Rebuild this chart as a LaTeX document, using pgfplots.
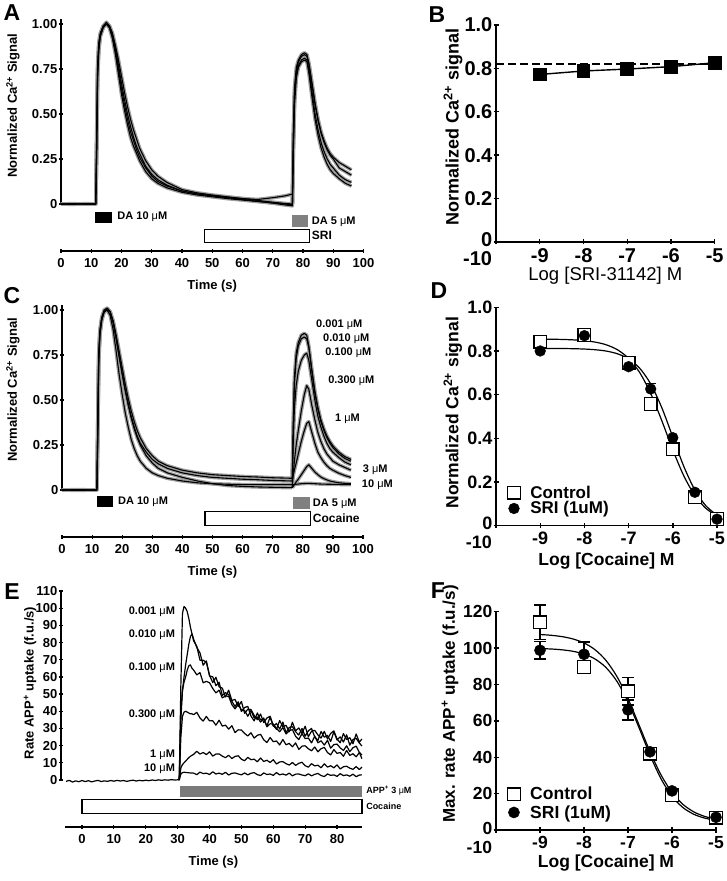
\documentclass[border=0pt]{standalone}
\usepackage{pgfplots}
\usepackage{pgfplotstable}
\pgfplotsset{compat=1.18}
\usepackage{fontspec}
\setmainfont{Liberation Sans}
\newcommand{\fs}[1]{\fontsize{#1}{#1}\selectfont}
\newcommand{\uM}{{\mdseries μ}M}

% panel A traces
\pgfplotstableread{
t a1 a2 a3 a4
0 0 0 0 0
4 0.002 -0.002 0.001 0
8 -0.001 0.002 0 0.001
11.5 0 0 0 0
11.8 0.35 0.3 0.4 0.3
12.1 0.75 0.7 0.78 0.72
12.5 0.88 0.85 0.9 0.87
13 0.94 0.93 0.95 0.94
14 0.99 0.98 0.99 0.99
15 1.0 1.0 1.01 1.0
16 0.98 0.99 0.99 0.98
17 0.92 0.95 0.94 0.93
18 0.83 0.88 0.86 0.85
19 0.72 0.80 0.77 0.75
20 0.61 0.71 0.67 0.64
21 0.52 0.62 0.58 0.55
22 0.44 0.54 0.50 0.47
23 0.37 0.47 0.43 0.40
24 0.32 0.41 0.37 0.35
25 0.28 0.36 0.32 0.30
26 0.24 0.31 0.28 0.26
28 0.18 0.24 0.21 0.20
30 0.14 0.19 0.165 0.155
32 0.115 0.155 0.135 0.125
35 0.09 0.12 0.105 0.10
40 0.065 0.08 0.072 0.072
45 0.05 0.062 0.056 0.056
50 0.04 0.05 0.045 0.046
55 0.03 0.04 0.035 0.037
60 0.022 0.03 0.025 0.03
65 0.014 0.02 0.015 0.025
70 0.006 0.01 0.005 0.035
74 0 0.003 -0.005 0.045
76.5 -0.005 0 -0.01 0.055
76.8 0.3 0.35 0.28 0.4
77.2 0.6 0.62 0.55 0.65
77.8 0.72 0.74 0.7 0.76
78.5 0.77 0.79 0.76 0.8
79.5 0.8 0.82 0.79 0.83
80.5 0.81 0.83 0.8 0.84
81.3 0.8 0.82 0.79 0.83
82 0.74 0.77 0.72 0.78
83 0.62 0.66 0.59 0.67
84 0.5 0.55 0.47 0.56
85 0.41 0.46 0.38 0.47
86 0.34 0.39 0.31 0.40
87 0.29 0.34 0.26 0.35
88 0.25 0.30 0.22 0.31
89 0.22 0.27 0.19 0.28
90 0.2 0.25 0.17 0.26
92 0.16 0.2 0.14 0.23
94 0.135 0.18 0.115 0.21
96 0.12 0.16 0.10 0.19
}\dataA

% panel C, first response
\pgfplotstableread{
t f1 f2 f3 f4
0 0 0 0 0
5 0.002 -0.002 0.001 0
11.6 0 0 0 0
11.9 0.35 0.3 0.4 0.38
12.2 0.72 0.7 0.76 0.74
12.6 0.87 0.86 0.89 0.88
13.2 0.95 0.94 0.96 0.95
14 0.99 0.99 1.0 0.99
15 1.01 1.0 1.01 1.0
16 0.99 0.99 0.99 0.97
17 0.94 0.93 0.93 0.89
18 0.86 0.84 0.84 0.77
19 0.77 0.74 0.74 0.64
20 0.68 0.65 0.64 0.53
21 0.59 0.56 0.55 0.43
22 0.51 0.48 0.47 0.35
23 0.44 0.41 0.40 0.28
24 0.38 0.35 0.34 0.23
25 0.33 0.30 0.29 0.19
26 0.29 0.26 0.25 0.16
28 0.23 0.21 0.19 0.12
30 0.19 0.17 0.15 0.095
32 0.16 0.145 0.12 0.08
35 0.135 0.12 0.095 0.065
40 0.11 0.095 0.07 0.05
45 0.095 0.08 0.05 0.04
50 0.085 0.07 0.035 0.035
55 0.08 0.065 0.025 0.032
60 0.075 0.06 0.02 0.03
65 0.072 0.057 0.017 0.03
70 0.068 0.053 0.015 0.03
76.5 0.065 0.05 0.013 0.03
}\dataCa

% panel C, second response (one column per cocaine concentration)
\pgfplotstableread{
t c1 c2 c3 c4 c5 c6 c7
76.5 0.013 0.065 0.05 0.013 0.065 0.013 0.03
76.8 0.35 0.33 0.25 0.08 0.08 0.02 0.03
77.2 0.62 0.58 0.45 0.16 0.11 0.03 0.03
77.8 0.76 0.73 0.58 0.25 0.15 0.045 0.032
78.5 0.82 0.8 0.66 0.33 0.2 0.06 0.033
79.5 0.86 0.84 0.72 0.44 0.27 0.085 0.035
80.5 0.87 0.85 0.75 0.53 0.33 0.11 0.036
81.3 0.86 0.84 0.76 0.58 0.37 0.13 0.037
82 0.8 0.79 0.72 0.56 0.38 0.14 0.037
83 0.67 0.66 0.61 0.47 0.32 0.12 0.036
84 0.55 0.54 0.5 0.39 0.26 0.1 0.035
85 0.46 0.45 0.41 0.32 0.21 0.085 0.034
86 0.39 0.38 0.35 0.27 0.18 0.072 0.033
87 0.34 0.33 0.3 0.23 0.155 0.063 0.033
88 0.3 0.29 0.26 0.2 0.135 0.056 0.032
89 0.27 0.26 0.23 0.18 0.12 0.05 0.032
90 0.245 0.235 0.21 0.16 0.11 0.046 0.031
92 0.21 0.2 0.18 0.14 0.093 0.04 0.031
94 0.185 0.175 0.155 0.125 0.08 0.037 0.03
96 0.17 0.16 0.14 0.11 0.07 0.035 0.03
}\dataCb

% panel E, baseline before APP+
\pgfplotstableread{
t v
-5 -0.8
-4 -0.2
-3 -1.2
-2 -0.5
-1 -1.0
0 -0.3
1 -0.9
2 -0.4
3 -1.1
4 -0.6
5 -0.2
6 -0.9
7 -0.5
8 -0.8
9 -0.3
10 -0.7
11 -0.2
12 -0.6
13 -0.3
14 -0.8
15 -0.4
16 -0.1
17 -0.6
18 -0.2
19 -0.5
20 -0.1
21 -0.4
22 0
23 -0.3
24 0.1
25 -0.2
26 0.1
27 -0.1
28 0.2
29 0
30 0.1
30.5 0
}\dataEbase

% panel E, uptake rate after APP+ (0.001, 0.010, 0.100, 0.300, 1, 10 uM cocaine)
\pgfplotstableread{
t e1 e2 e3 e4 e5 e6
30.5 0 0 0 0 0 0
31 55 40 35 25 7 3.5
31.5 97 52 52 37 9 4.3
32 101 60 57 39.5 10 4.5
32.5 100 67 60 40 11 4.4
33 98 73 64 39.5 12 4.3
33.5 94 79 66.5 39 13 4.2
34 89 83.5 67 38.5 13.8 4.1
34.5 85 85 65 38.5 14.4 4.1
35 81 82 64 38 14.9 4.0
36 77.8 77.2 61.2 39.4 16.7 3.1
37 69.7 74.0 62.5 36.1 15.1 4.6
38 69.7 66.8 56.6 34.3 16.0 3.7
39 68.5 69.3 57.4 37.0 14.8 4.0
40 61.0 60.5 56.6 34.4 16.4 3.2
41 56.7 60.1 53.3 34.5 13.9 4.8
42 59.8 54.9 50.7 31.9 15.1 3.5
43 54.2 56.9 52.3 34.8 15.2 4.0
44 53.5 49.2 47.8 31.4 13.9 3.3
45 48.3 50.8 48.9 31.9 13.0 4.5
46 52.3 49.7 48.7 29.6 14.4 2.9
47 46.3 45.8 43.9 31.6 12.5 3.9
48 46.9 42.8 41.4 27.6 13.7 4.1
49 42.7 45.5 44.2 29.2 14.1 3.5
50 45.7 39.9 40.7 29.1 12.1 3.0
51 38.8 42.2 40.5 27.1 11.2 4.1
52 41.2 42.8 37.1 25.6 13.2 3.0
53 41.0 37.2 40.4 27.5 11.8 3.9
54 37.6 34.4 36.1 24.4 12.1 4.3
55 35.1 39.0 36.7 26.0 10.6 3.1
56 38.4 35.0 33.7 26.6 12.8 2.6
57 33.4 35.4 36.1 23.4 10.8 4.1
58 36.1 31.4 31.0 21.8 11.5 3.2
59 37.1 36.6 32.7 24.7 10.2 3.5
60 31.8 31.3 32.6 22.3 11.8 2.7
61 29.5 32.9 30.0 22.7 9.3 4.3
62 34.6 29.7 28.1 20.4 10.5 3.0
63 31.0 33.7 30.5 23.6 10.7 3.5
64 31.8 27.5 26.8 20.5 9.5 2.8
65 28.1 30.6 28.7 21.3 8.7 4.0
66 33.6 31.0 29.3 19.3 10.2 2.4
67 28.6 28.1 25.4 21.6 8.5 3.4
68 30.3 26.2 23.5 17.8 9.7 3.5
69 27.2 30.0 27.0 19.7 10.3 2.9
70 31.3 25.5 24.1 19.9 8.3 2.5
71 25.2 28.6 24.4 18.2 7.5 3.6
72 28.4 30.0 21.6 17.0 9.5 2.4
73 28.9 25.1 25.5 19.2 8.2 3.3
74 26.2 23.0 21.7 16.4 8.6 3.8
75 24.4 28.3 22.8 18.2 7.1 2.6
76 28.3 24.9 20.3 19.0 9.4 2.0
77 23.9 25.9 23.1 16.0 7.5 3.5
78 27.1 22.4 18.5 14.6 8.3 2.7
79 28.6 28.1 20.6 17.7 7.1 3.0
80 23.8 23.3 20.9 15.5 8.8 2.1
81 21.7 25.1 18.7 16.0 6.4 3.7
82 27.0 22.1 17.2 13.8 7.7 2.5
83 23.6 26.3 19.9 17.2 8.0 3.0
84 24.6 20.3 16.5 14.3 6.9 2.2
85 21.1 23.6 18.8 15.3 6.2 3.4
86 26.8 24.2 19.7 13.5 7.8 1.9
87 22.0 21.5 16.1 16.0 6.1 2.9
87.8 23.9 19.8 14.5 12.4 7.5 3.0
}\dataE

\tikzset{lbl/.style={font=\fs{11}\bfseries, inner sep=0pt}}
\pgfplotsset{
  /pgf/number format/assume math mode=true,
  every axis/.append style={scale only axis, anchor=south west, clip=false,
    tick style={black, line width=1.2pt}, tick align=outside},
  halo/.style={black!38, line width=3.6pt, line join=round, mark=none, forget plot},
  tr/.style={black, line width=1.1pt, line join=round, mark=none},
  trace axis/.style={hide x axis, axis y line=left, axis line style={-, line width=1.2pt},
    major tick length=4pt, yticklabel style={font=\fs{13}\bfseries, inner sep=1.5pt}},
  prism/.style={axis lines=left, axis line style={-, line width=1.4pt},
    tick style={black, line width=1.4pt}, major tick length=5pt,
    xmin=-10, xmax=-5, xtick={-10,-9,-8,-7,-6,-5},
    xticklabels={\makebox[0pt][r]{\rule{0pt}{16.5pt}-10\kern4pt},-9,-8,-7,-6,-5},
    xticklabel style={inner sep=1pt, yshift=-3pt}, yticklabel style={inner sep=1pt}},
  timeaxis/.style={height=10pt, ymin=0, ymax=1, axis x line=bottom, hide y axis,
    axis line style={-, line width=1.2pt},
    major tick length=4pt, minor tick length=2.5pt,
    xticklabel style={font=\fs{13}\bfseries, inner sep=1.5pt, yshift=-4pt},
    xlabel={Time (s)},
    xlabel style={font=\fs{13}\bfseries, at={(axis description cs:0.5,0)}, anchor=center, yshift=-35pt}},
}

\begin{document}
\begin{tikzpicture}
\path[use as bounding box] (0,0) rectangle (726pt,881pt);

%% ---------------- A ----------------
\begin{axis}[trace axis, at={(61pt,677pt)}, width=302.5pt, height=185.4pt,
  xmin=0, xmax=100, ymin=0, ymax=1.03,
  ytick={0,0.25,0.5,0.75,1}, yticklabels={0,0.25,0.50,0.75,1.00},
  ylabel={Normalized Ca\textsuperscript{2+} Signal},
  ylabel style={font=\fs{13}\bfseries, at={(axis description cs:-0.159,0.53)}, anchor=center}]
\pgfplotsinvokeforeach{a1,a2,a3,a4}{\addplot[halo] table[y=#1]{\dataA};}
\pgfplotsinvokeforeach{a1,a2,a3,a4}{\addplot[tr] table[y=#1]{\dataA};}
\addplot[fill=black, draw=none, mark=none] coordinates {(11.3,-0.043)(16.8,-0.043)(16.8,-0.107)(11.3,-0.107)} -- cycle;
\addplot[fill=black!50, draw=none, mark=none] coordinates {(76.5,-0.061)(81.8,-0.061)(81.8,-0.126)(76.5,-0.126)} -- cycle;
\addplot[fill=white, draw=black, line width=1.2pt, mark=none] coordinates {(47.4,-0.141)(82.1,-0.141)(82.1,-0.215)(47.4,-0.215)} -- cycle;
\node[lbl, anchor=west] at (axis cs:18.6,-0.071) {DA 10 \uM};
\node[lbl, anchor=west] at (axis cs:82.9,-0.098) {DA 5 \uM};
\node[lbl, anchor=west, font=\fs{12}\bfseries] at (axis cs:82.9,-0.176) {SRI};
\end{axis}
\begin{axis}[timeaxis, at={(61pt,630pt)}, width=302.5pt, xmin=0, xmax=100,
  xtick={0,10,...,100}, minor x tick num=1]
\end{axis}

%% ---------------- C ----------------
\begin{axis}[trace axis, at={(62pt,391pt)}, width=301pt, height=185.4pt,
  xmin=0, xmax=100, ymin=0, ymax=1.03,
  ytick={0,0.25,0.5,0.75,1}, yticklabels={0,0.25,0.50,0.75,1.00},
  ylabel={Normalized Ca\textsuperscript{2+} Signal},
  ylabel style={font=\fs{13}\bfseries, at={(axis description cs:-0.163,0.54)}, anchor=center}]
\pgfplotsinvokeforeach{f1,f2,f3,f4}{\addplot[halo] table[y=#1]{\dataCa};}
\pgfplotsinvokeforeach{c1,c2,c3,c4,c5,c6,c7}{\addplot[halo] table[y=#1]{\dataCb};}
\pgfplotsinvokeforeach{f1,f2,f3,f4}{\addplot[tr] table[y=#1]{\dataCa};}
\pgfplotsinvokeforeach{c1,c2,c3,c4,c5,c6,c7}{\addplot[tr] table[y=#1]{\dataCb};}
\addplot[fill=black, draw=none, mark=none] coordinates {(11.5,-0.033)(17,-0.033)(17,-0.094)(11.5,-0.094)} -- cycle;
\addplot[fill=black!50, draw=none, mark=none] coordinates {(76.8,-0.041)(82.4,-0.041)(82.4,-0.107)(76.8,-0.107)} -- cycle;
\addplot[fill=white, draw=black, line width=1.2pt, mark=none] coordinates {(47.5,-0.121)(82.6,-0.121)(82.6,-0.196)(47.5,-0.196)} -- cycle;
\node[lbl, anchor=west] at (axis cs:18.6,-0.065) {DA 10 \uM};
\node[lbl, anchor=west] at (axis cs:83.3,-0.074) {DA 5 \uM};
\node[lbl, anchor=west, font=\fs{12}\bfseries] at (axis cs:83.3,-0.159) {Cocaine};
\node[lbl, anchor=west] at (axis cs:84.4,0.92) {0.001 \uM};
\node[lbl, anchor=west] at (axis cs:86.7,0.839) {0.010 \uM};
\node[lbl, anchor=west] at (axis cs:87.4,0.763) {0.100 \uM};
\node[lbl, anchor=west] at (axis cs:88.4,0.607) {0.300 \uM};
\node[lbl, anchor=west] at (axis cs:90.7,0.398) {1 \uM};
\node[lbl, anchor=west] at (axis cs:99.9,0.115) {3 \uM};
\node[lbl, anchor=west] at (axis cs:99.6,0.03) {10 \uM};
\end{axis}
\begin{axis}[timeaxis, at={(62pt,344pt)}, width=301pt, xmin=0, xmax=100,
  xtick={0,10,...,100}, minor x tick num=1]
\end{axis}

%% ---------------- E ----------------
\begin{axis}[trace axis, at={(61pt,101pt)}, width=300.9pt, height=189pt,
  xmin=-6.6, xmax=87.8, ymin=0, ymax=110,
  ytick={0,10,...,110},
  ylabel={Rate APP\textsuperscript{+} uptake (f.u./s)},
  ylabel style={font=\fs{13}\bfseries, at={(axis description cs:-0.103,0.513)}, anchor=center}]
\addplot[tr, line width=1.2pt] table[y=v]{\dataEbase};
\pgfplotsinvokeforeach{e1,e2,e3,e4,e5,e6}{\addplot[tr, line width=1.2pt] table[y=#1]{\dataE};}
\addplot[fill=black!52, draw=none, mark=none] coordinates {(30.8,-3.5)(87.8,-3.5)(87.8,-9.7)(30.8,-9.7)} -- cycle;
\addplot[fill=white, draw=black, line width=1.2pt, mark=none] coordinates {(0,-11.2)(87.8,-11.2)(87.8,-19.4)(0,-19.4)} -- cycle;
\node[lbl, anchor=east] at (axis cs:29.2,98) {0.001 \uM};
\node[lbl, anchor=east] at (axis cs:29.2,84.4) {0.010 \uM};
\node[lbl, anchor=east] at (axis cs:29.2,65.2) {0.100 \uM};
\node[lbl, anchor=east] at (axis cs:29.2,37.8) {0.300 \uM};
\node[lbl, anchor=east] at (axis cs:29.2,14.6) {1 \uM};
\node[lbl, anchor=east] at (axis cs:29.2,6.4) {10 \uM};
\node[lbl, anchor=west, font=\fs{9}\bfseries] at (axis cs:89.1,-6.4) {APP\textsuperscript{+} 3 \uM};
\node[lbl, anchor=west, font=\fs{9}\bfseries] at (axis cs:89.1,-15.1) {Cocaine};
\end{axis}
\begin{axis}[timeaxis, at={(65.1pt,54pt)}, width=296.8pt, xmin=-5.3, xmax=87.8,
  xtick={0,10,...,80}, minor xtick={-5,5,...,85}]
\end{axis}

%% ---------------- B ----------------
\begin{axis}[prism, at={(496pt,639pt)}, width=218.7pt, height=217pt,
  ymin=0, ymax=1, ytick={0,0.2,0.4,0.6,0.8,1}, yticklabels={\raisebox{4pt}{0},0.2,0.4,0.6,0.8,1.0},
  tick label style={font=\fs{20}\bfseries},
  xlabel={Log [SRI-31142] M},
  xlabel style={font=\fs{18.5}, at={(axis description cs:0.5,0)}, anchor=center, yshift=-34pt},
  ylabel={Normalized Ca\textsuperscript{2+} signal},
  ylabel style={font=\fs{18}\bfseries, at={(axis description cs:-0.197,0.528)}, anchor=center}]
\addplot[black, line width=1.6pt, dash pattern=on 8pt off 4pt, mark=none] coordinates {(-10,0.82)(-5,0.82)};
\addplot[black, line width=1.4pt, mark=square*, mark size=6.2pt] coordinates
  {(-9,0.772)(-8,0.788)(-7,0.797)(-6,0.808)(-5,0.826)};
\end{axis}

%% ---------------- D ----------------
\begin{axis}[prism, at={(496pt,355.3pt)}, width=221pt, height=218.4pt,
  ymin=0, ymax=1, ytick={0,0.2,0.4,0.6,0.8,1}, yticklabels={\raisebox{4pt}{0},0.2,0.4,0.6,0.8,1.0},
  tick label style={font=\fs{18}\bfseries},
  xlabel={Log [Cocaine] M},
  xlabel style={font=\fs{17.5}\bfseries, at={(axis description cs:0.5,0)}, anchor=center, yshift=-35.5pt},
  ylabel={Normalized Ca\textsuperscript{2+} signal},
  ylabel style={font=\fs{17.5}\bfseries, at={(axis description cs:-0.195,0.517)}, anchor=center},
  legend style={draw=none, fill=none, at={(axis description cs:0.052,0.115)}, anchor=west,
    font=\fs{17}\bfseries, inner sep=0pt, column sep=9pt, row sep=0pt,
    nodes={inner sep=1pt}},
  legend cell align=left]
\addplot[black, line width=1.2pt, smooth, mark=none, forget plot] coordinates
  {(-9,0.8544)(-8.75,0.8538)(-8.5,0.8528)(-8.25,0.8508)(-8,0.8472)(-7.75,0.8404)(-7.5,0.8279)(-7.25,0.8053)(-7,0.7661)(-6.75,0.7015)(-6.5,0.6055)(-6.25,0.4814)(-6,0.3473)(-5.75,0.2278)(-5.5,0.1382)(-5.25,0.0794)(-5,0.044)};
\addplot[black, line width=1.2pt, smooth, mark=none, forget plot] coordinates
  {(-9,0.8118)(-8.75,0.8116)(-8.5,0.8112)(-8.25,0.8104)(-8,0.8088)(-7.75,0.8056)(-7.5,0.7993)(-7.25,0.7871)(-7,0.7638)(-6.75,0.7212)(-6.5,0.649)(-6.25,0.5409)(-6,0.406)(-5.75,0.2711)(-5.5,0.163)(-5.25,0.0908)(-5,0.0482)};
\addplot[only marks, mark=square*, mark size=6.3pt, mark options={fill=white, draw=black, line width=1.3pt}] coordinates
  {(-9,0.843)(-8,0.873)(-7,0.747)(-6.5,0.557)(-6,0.35)(-5.5,0.13)(-5,0.03)};
\addlegendentry{Control}
\addplot[only marks, mark=*, mark size=5.4pt, mark options={fill=black, draw=black},
  error bars/.cd, y dir=plus, y explicit, error bar style={line width=1.3pt},
  error mark options={rotate=90, mark size=5pt, line width=1.3pt}] coordinates
  {(-9,0.80)(-8,0.87)(-7,0.728)(-6.5,0.626) +- (0,0.025)(-6,0.403)(-5.5,0.153)(-5,0.03)};
\addlegendentry{SRI (1uM)}
\end{axis}

%% ---------------- F ----------------
\begin{axis}[prism, at={(496pt,51pt)}, width=220pt, height=218.3pt,
  ymin=0, ymax=120, ytick={0,20,...,120}, yticklabels={\raisebox{4pt}{0},20,40,60,80,100,120},
  tick label style={font=\fs{17.5}\bfseries},
  xlabel={Log [Cocaine] M},
  xlabel style={font=\fs{17.5}\bfseries, at={(axis description cs:0.5,0)}, anchor=center, yshift=-33.5pt},
  ylabel={Max. rate APP\textsuperscript{+} uptake (f.u./s)},
  ylabel style={font=\fs{17}\bfseries, at={(axis description cs:-0.209,0.577)}, anchor=center},
  legend style={draw=none, fill=none, at={(axis description cs:0.052,0.122)}, anchor=west,
    font=\fs{17.5}\bfseries, inner sep=0pt, column sep=9pt, row sep=2pt,
    nodes={inner sep=1pt}},
  legend cell align=left]
\addplot[black, line width=1.2pt, smooth, mark=none, forget plot] coordinates
  {(-9,107.46)(-8.75,107.04)(-8.5,106.3)(-8.25,105.02)(-8,102.81)(-7.75,99.12)(-7.5,93.19)(-7.25,84.3)(-7,72.2)(-6.75,57.79)(-6.5,43.1)(-6.25,30.32)(-6,20.65)(-5.75,14.06)(-5.5,9.91)(-5.25,7.41)(-5,5.94)};
\addplot[black, line width=1.2pt, smooth, mark=none, forget plot] coordinates
  {(-9,99.73)(-8.75,99.5)(-8.5,99.05)(-8.25,98.23)(-8,96.73)(-7.75,94.01)(-7.5,89.31)(-7.25,81.67)(-7,70.45)(-6.75,56.24)(-6.5,41.24)(-6.25,28.17)(-6,18.55)(-5.75,12.32)(-5.5,8.6)(-5.25,6.5)(-5,5.34)};
\addplot[only marks, mark=square*, mark size=6.3pt, mark options={fill=white, draw=black, line width=1.3pt},
  error bars/.cd, y dir=both, y explicit, error bar style={line width=1.3pt},
  error mark options={rotate=90, mark size=6pt, line width=1.3pt}] coordinates
  {(-9,114.2) +- (0,9.5) (-8,89.6) +- (0,2.5) (-7,76.3) +- (0,7.6) (-6.5,42) +- (0,2.5) (-6,19) +- (0,1.5) (-5,6.8) +- (0,1)};
\addlegendentry{Control}
\addplot[only marks, mark=*, mark size=5.6pt, mark options={fill=black, draw=black},
  error bars/.cd, y dir=both, y explicit, error bar style={line width=1.3pt},
  error mark options={rotate=90, mark size=6pt, line width=1.3pt}] coordinates
  {(-9,98.8) +- (0,4.8) (-8,96.6) +- (0,6.8) (-7,66) +- (0,5.5) (-6.5,43) +- (0,2) (-6,21.5) +- (0,1.5) (-5,7) +- (0,1)};
\addlegendentry{SRI (1uM)}
\end{axis}

%% panel letters
\node[font=\fs{23}\bfseries] at (12pt,868pt) {A};
\node[font=\fs{23}\bfseries] at (437pt,866pt) {B};
\node[font=\fs{23}\bfseries] at (12pt,585pt) {C};
\node[font=\fs{23}\bfseries] at (439pt,590pt) {D};
\node[font=\fs{23}\bfseries] at (12pt,289pt) {E};
\node[font=\fs{23}\bfseries] at (438pt,290pt) {F};
\end{tikzpicture}
\end{document}
